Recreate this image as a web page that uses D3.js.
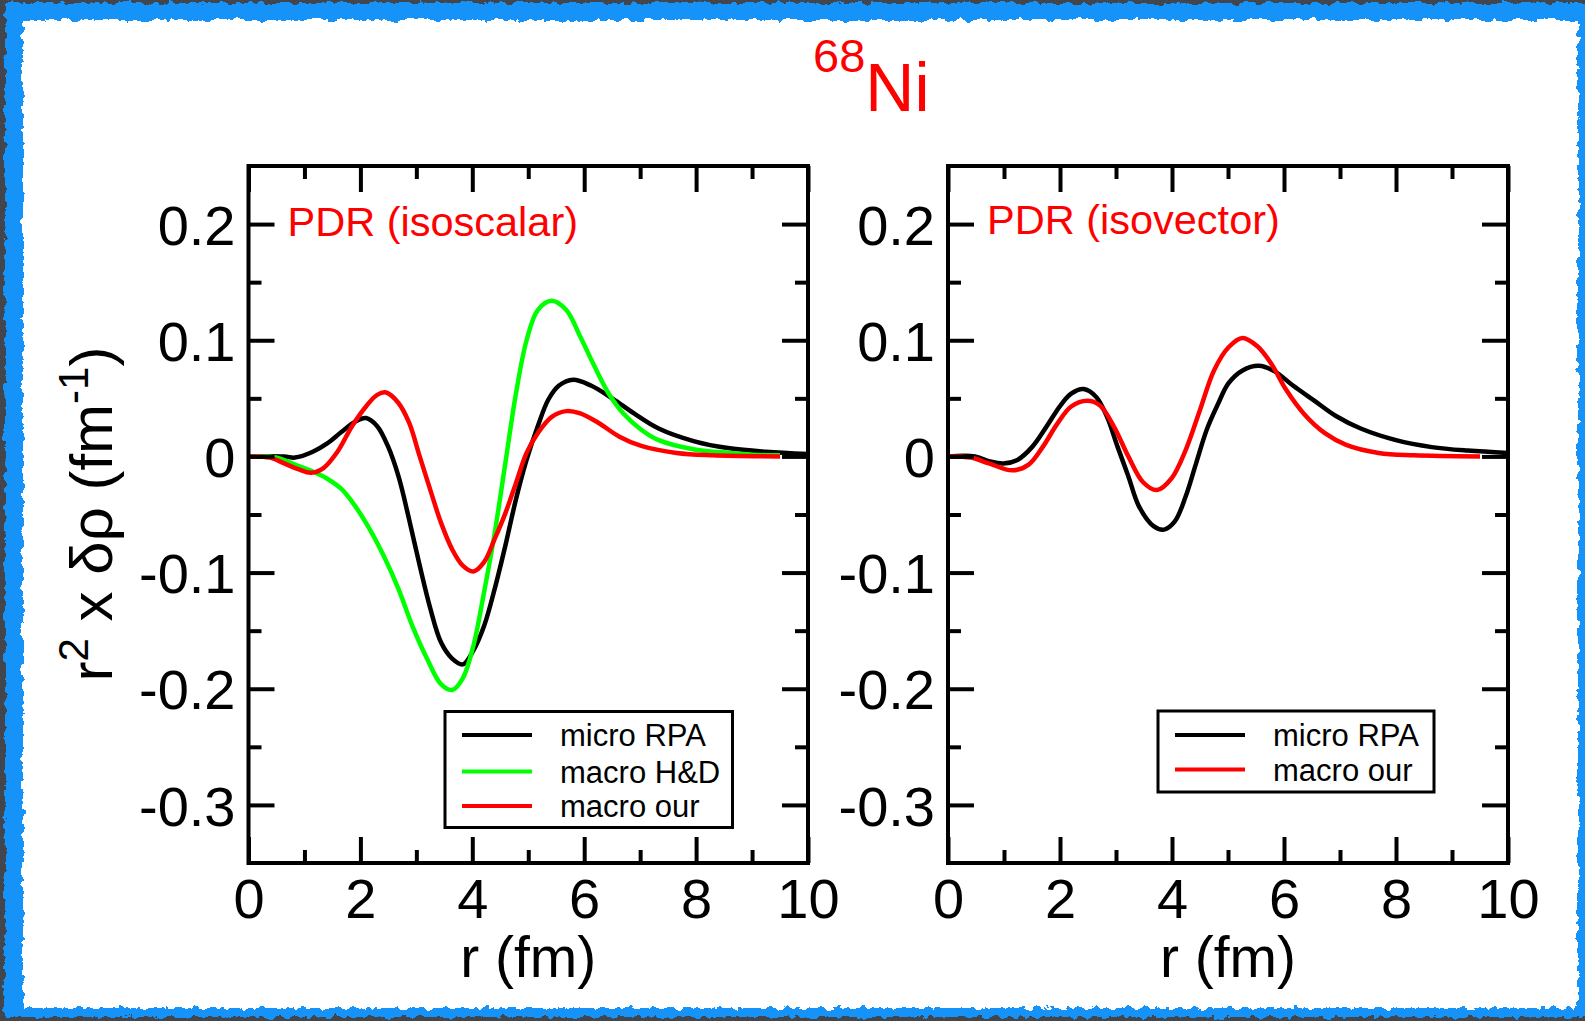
<!doctype html>
<html>
<head>
<style>
body { margin: 0; background: #3b3f46; }
svg { display: block; font-family: "Liberation Sans", Arial, Helvetica, sans-serif; }
</style>
<script src="https://d3js.org/d3.v7.min.js"></script>
</head>
<body>
<svg width="1585" height="1021"></svg>
<script>
// ---- data ----
// isoscalar panel
var isoMicroR = [0, 0.64, 0.83, 1.15, 1.4, 1.66, 1.91, 2.1, 2.3, 2.49, 2.68, 2.87, 3.06, 3.25, 3.44, 3.64, 3.83, 4.02, 4.21, 4.4, 4.59, 4.78, 4.97, 5.17, 5.36, 5.55, 5.8, 6.12, 6.5, 6.89, 7.33, 7.97, 8.6, 9.25, 10];
var isoMicroV = [0, 0, -0.001, 0.004, 0.011, 0.021, 0.030, 0.033, 0.026, 0.009, -0.017, -0.054, -0.094, -0.131, -0.160, -0.174, -0.179, -0.167, -0.146, -0.114, -0.077, -0.037, -0.003, 0.026, 0.049, 0.061, 0.066, 0.061, 0.050, 0.037, 0.024, 0.013, 0.007, 0.004, 0.002];

var isoHDR = [0, 0.51, 0.83, 1.15, 1.4, 1.66, 1.91, 2.17, 2.42, 2.68, 2.93, 3.19, 3.44, 3.64, 3.83, 4.02, 4.21, 4.4, 4.59, 4.78, 4.97, 5.17, 5.42, 5.68, 5.93, 6.19, 6.44, 6.7, 7.02, 7.33, 7.97, 8.6, 9.25, 9.5];
var isoHDV = [0, -0.001, -0.007, -0.013, -0.019, -0.028, -0.043, -0.063, -0.086, -0.114, -0.146, -0.174, -0.196, -0.201, -0.191, -0.163, -0.117, -0.066, -0.006, 0.054, 0.100, 0.126, 0.134, 0.126, 0.103, 0.077, 0.054, 0.037, 0.023, 0.014, 0.006, 0.003, 0.001, 0.001];

var isoOurR = [0, 0.38, 0.64, 0.89, 1.12, 1.34, 1.59, 1.85, 2.1, 2.3, 2.46, 2.68, 2.87, 3.06, 3.25, 3.44, 3.64, 3.83, 4.02, 4.21, 4.4, 4.59, 4.78, 4.97, 5.17, 5.42, 5.68, 5.93, 6.25, 6.63, 7.02, 7.65, 8.29, 9.5];
var isoOurV = [0, -0.001, -0.006, -0.011, -0.014, -0.010, 0.004, 0.026, 0.043, 0.053, 0.055, 0.046, 0.029, 0, -0.029, -0.057, -0.080, -0.094, -0.099, -0.091, -0.071, -0.049, -0.023, 0.003, 0.020, 0.034, 0.039, 0.037, 0.029, 0.017, 0.009, 0.003, 0.001, 0];

// isovector panel
var ivMicroR = [0, 0.48, 0.73, 0.99, 1.24, 1.5, 1.75, 2.01, 2.2, 2.42, 2.65, 2.84, 3.03, 3.22, 3.41, 3.67, 3.86, 4.05, 4.24, 4.43, 4.62, 4.82, 5.01, 5.26, 5.55, 5.84, 6.16, 6.54, 6.92, 7.37, 8.0, 8.64, 9.28, 10];
var ivMicroV = [0, 0, -0.004, -0.006, -0.003, 0.008, 0.025, 0.044, 0.054, 0.058, 0.051, 0.034, 0.008, -0.017, -0.043, -0.060, -0.063, -0.056, -0.035, -0.006, 0.023, 0.045, 0.063, 0.074, 0.078, 0.073, 0.061, 0.048, 0.035, 0.024, 0.014, 0.008, 0.005, 0.003];

var ivOurR = [0, 0.41, 0.73, 1.15, 1.44, 1.69, 1.95, 2.2, 2.49, 2.71, 2.97, 3.22, 3.48, 3.73, 3.99, 4.24, 4.5, 4.75, 5.01, 5.26, 5.52, 5.77, 6.03, 6.35, 6.73, 7.11, 7.69, 8.32, 9.5];
var ivOurV = [0, -0.001, -0.006, -0.012, -0.007, 0.008, 0.028, 0.043, 0.048, 0.044, 0.025, 0, -0.022, -0.029, -0.019, 0.005, 0.040, 0.074, 0.094, 0.102, 0.095, 0.080, 0.058, 0.037, 0.020, 0.010, 0.003, 0.001, 0];

var xMajor = [0, 2, 4, 6, 8, 10];
var xMinor = [1, 3, 5, 7, 9];
var yMajor = [-0.3, -0.2, -0.1, 0, 0.1, 0.2];
var yMinor = [-0.25, -0.15, -0.05, 0.05, 0.15];

var svg = d3.select("svg"),
    width = +svg.attr("width"),
    height = +svg.attr("height");

// ---- chalky blue frame ----
var defs = svg.append("defs");
var rough = defs.append("filter").attr("id", "rough")
    .attr("x", "-2%").attr("y", "-2%").attr("width", "104%").attr("height", "104%");
rough.append("feTurbulence").attr("type", "fractalNoise")
    .attr("baseFrequency", "0.12").attr("numOctaves", 3).attr("seed", 4).attr("result", "noise");
rough.append("feDisplacementMap").attr("in", "SourceGraphic").attr("in2", "noise")
    .attr("scale", 9).attr("xChannelSelector", "R").attr("yChannelSelector", "G");

var grain = defs.append("filter").attr("id", "grain");
grain.append("feTurbulence").attr("type", "fractalNoise")
    .attr("baseFrequency", "0.6").attr("numOctaves", 2).attr("seed", 2);
grain.append("feColorMatrix").attr("type", "matrix")
    .attr("values", "0 0 0 0 0.1  0 0 0 0 0.1  0 0 0 0 0.12  0 0 0 0.5 0");

svg.append("rect").attr("width", width).attr("height", height).attr("fill", "#3b3f46");
svg.append("rect").attr("width", width).attr("height", height).attr("filter", "url(#grain)");
svg.append("rect").attr("x", 5).attr("y", 3).attr("width", width).attr("height", 1014)
    .attr("fill", "#1393f8").attr("filter", "url(#rough)");
svg.append("rect").attr("x", 23).attr("y", 20).attr("width", 1555).attr("height", 988)
    .attr("fill", "#fff").attr("filter", "url(#rough)");

// ---- title ----
var title = svg.append("text").attr("x", 813).attr("y", 72).attr("fill", "#ff0000");
title.append("tspan").attr("font-size", 47).text("68");
title.append("tspan").attr("font-size", 68).attr("dy", 39).text("Ni");

// ---- y axis title ----
var yt = svg.append("text")
    .attr("transform", "translate(112,514) rotate(-90)")
    .attr("text-anchor", "middle")
    .attr("font-size", 60);
yt.append("tspan").text("r");
yt.append("tspan").attr("font-size", 42).attr("dy", -24).text("2");
yt.append("tspan").attr("dy", 24).text(" x \u03B4\u03C1 (fm");
yt.append("tspan").attr("font-size", 42).attr("dy", -24).text("-1");
yt.append("tspan").attr("dy", 24).text(")");

var plotTop = 166, plotBottom = 863;
var y = d3.scaleLinear().domain([-0.35, 0.25]).range([plotBottom, plotTop]);

function styleAxis(g, labelSize) {
  g.select(".domain").remove();
  g.selectAll("line").attr("stroke", "#000").attr("stroke-width", 4);
  g.selectAll("text").attr("font-size", labelSize).attr("fill", "#000")
    .attr("font-family", "Liberation Sans, Arial, sans-serif");
}

function drawPanel(x0, x1, label, labelY, series, legend) {
  var x = d3.scaleLinear().domain([0, 10]).range([x0, x1]);
  var fmt = function(d) { return d === 0 ? "0" : d.toFixed(1); };

  // curves
  var line = d3.line()
      .x(function(d) { return x(d[0]); })
      .y(function(d) { return y(d[1]); })
      .curve(d3.curveCatmullRom.alpha(0.5));

  svg.append("g").selectAll("path")
    .data(series)
    .enter().append("path")
      .attr("d", function(s) { return line(d3.zip(s.r, s.v)); })
      .attr("fill", "none")
      .attr("stroke", function(s) { return s.color; })
      .attr("stroke-width", 4.5)
      .attr("stroke-linejoin", "round");

  // axes, ticks pointing inward
  svg.append("g").attr("transform", "translate(" + x0 + ",0)")
    .call(d3.axisLeft(y).tickValues(yMajor).tickSizeInner(-26).tickSizeOuter(0).tickPadding(13).tickFormat(fmt))
    .call(styleAxis, 56)
    .selectAll("text").attr("dy", "0.36em");
  svg.append("g").attr("transform", "translate(" + x0 + ",0)")
    .call(d3.axisLeft(y).tickValues(yMinor).tickSizeInner(-13).tickSizeOuter(0).tickFormat(""))
    .call(styleAxis, 0);
  svg.append("g").attr("transform", "translate(" + x1 + ",0)")
    .call(d3.axisRight(y).tickValues(yMajor).tickSizeInner(-26).tickSizeOuter(0).tickFormat(""))
    .call(styleAxis, 0);
  svg.append("g").attr("transform", "translate(" + x1 + ",0)")
    .call(d3.axisRight(y).tickValues(yMinor).tickSizeInner(-13).tickSizeOuter(0).tickFormat(""))
    .call(styleAxis, 0);
  svg.append("g").attr("transform", "translate(0," + plotBottom + ")")
    .call(d3.axisBottom(x).tickValues(xMajor).tickSizeInner(-26).tickSizeOuter(0).tickPadding(15).tickFormat(d3.format("d")))
    .call(styleAxis, 56)
    .selectAll("text").attr("dy", "0.72em");
  svg.append("g").attr("transform", "translate(0," + plotBottom + ")")
    .call(d3.axisBottom(x).tickValues(xMinor).tickSizeInner(-13).tickSizeOuter(0).tickFormat(""))
    .call(styleAxis, 0);
  svg.append("g").attr("transform", "translate(0," + plotTop + ")")
    .call(d3.axisTop(x).tickValues(xMajor).tickSizeInner(-26).tickSizeOuter(0).tickFormat(""))
    .call(styleAxis, 0);
  svg.append("g").attr("transform", "translate(0," + plotTop + ")")
    .call(d3.axisTop(x).tickValues(xMinor).tickSizeInner(-13).tickSizeOuter(0).tickFormat(""))
    .call(styleAxis, 0);

  // frame
  svg.append("rect")
    .attr("x", x0).attr("y", plotTop).attr("width", x1 - x0).attr("height", plotBottom - plotTop)
    .attr("fill", "none").attr("stroke", "#000").attr("stroke-width", 4);

  // panel label
  svg.append("text")
    .attr("x", x0 + 39).attr("y", labelY)
    .attr("font-size", 41.5).attr("fill", "#ff0000")
    .text(label);

  // x title
  svg.append("text")
    .attr("x", (x0 + x1) / 2).attr("y", 977)
    .attr("text-anchor", "middle").attr("font-size", 57)
    .text("r (fm)");

  // legend
  var lg = svg.append("g");
  lg.append("rect")
    .attr("x", legend.x).attr("y", legend.y).attr("width", legend.w).attr("height", legend.h)
    .attr("fill", "#fff").attr("stroke", "#000").attr("stroke-width", 3);
  var item = lg.selectAll("g.item")
    .data(series)
    .enter().append("g").attr("class", "item")
    .attr("transform", function(d, i) { return "translate(0," + legend.rows[i] + ")"; });
  item.append("line")
    .attr("x1", legend.x + 17).attr("x2", legend.x + 87)
    .attr("y1", 0).attr("y2", 0)
    .attr("stroke", function(d) { return d.color; }).attr("stroke-width", 4);
  item.append("text")
    .attr("x", legend.x + 115).attr("y", 11)
    .attr("font-size", 31)
    .text(function(d) { return d.name; });
}

drawPanel(248.5, 808, "PDR (isoscalar)", 236, [
  { name: "micro RPA", color: "#000000", r: isoMicroR, v: isoMicroV },
  { name: "macro H&D", color: "#00ff00", r: isoHDR, v: isoHDV },
  { name: "macro our", color: "#ff0000", r: isoOurR, v: isoOurV }
], { x: 445, y: 711.5, w: 287.5, h: 116, rows: [735, 771.5, 806] });

drawPanel(948, 1508, "PDR (isovector)", 234, [
  { name: "micro RPA", color: "#000000", r: ivMicroR, v: ivMicroV },
  { name: "macro our", color: "#ff0000", r: ivOurR, v: ivOurV }
], { x: 1158, y: 711, w: 276, h: 81, rows: [735, 769.5] });
</script>
</body>
</html>
